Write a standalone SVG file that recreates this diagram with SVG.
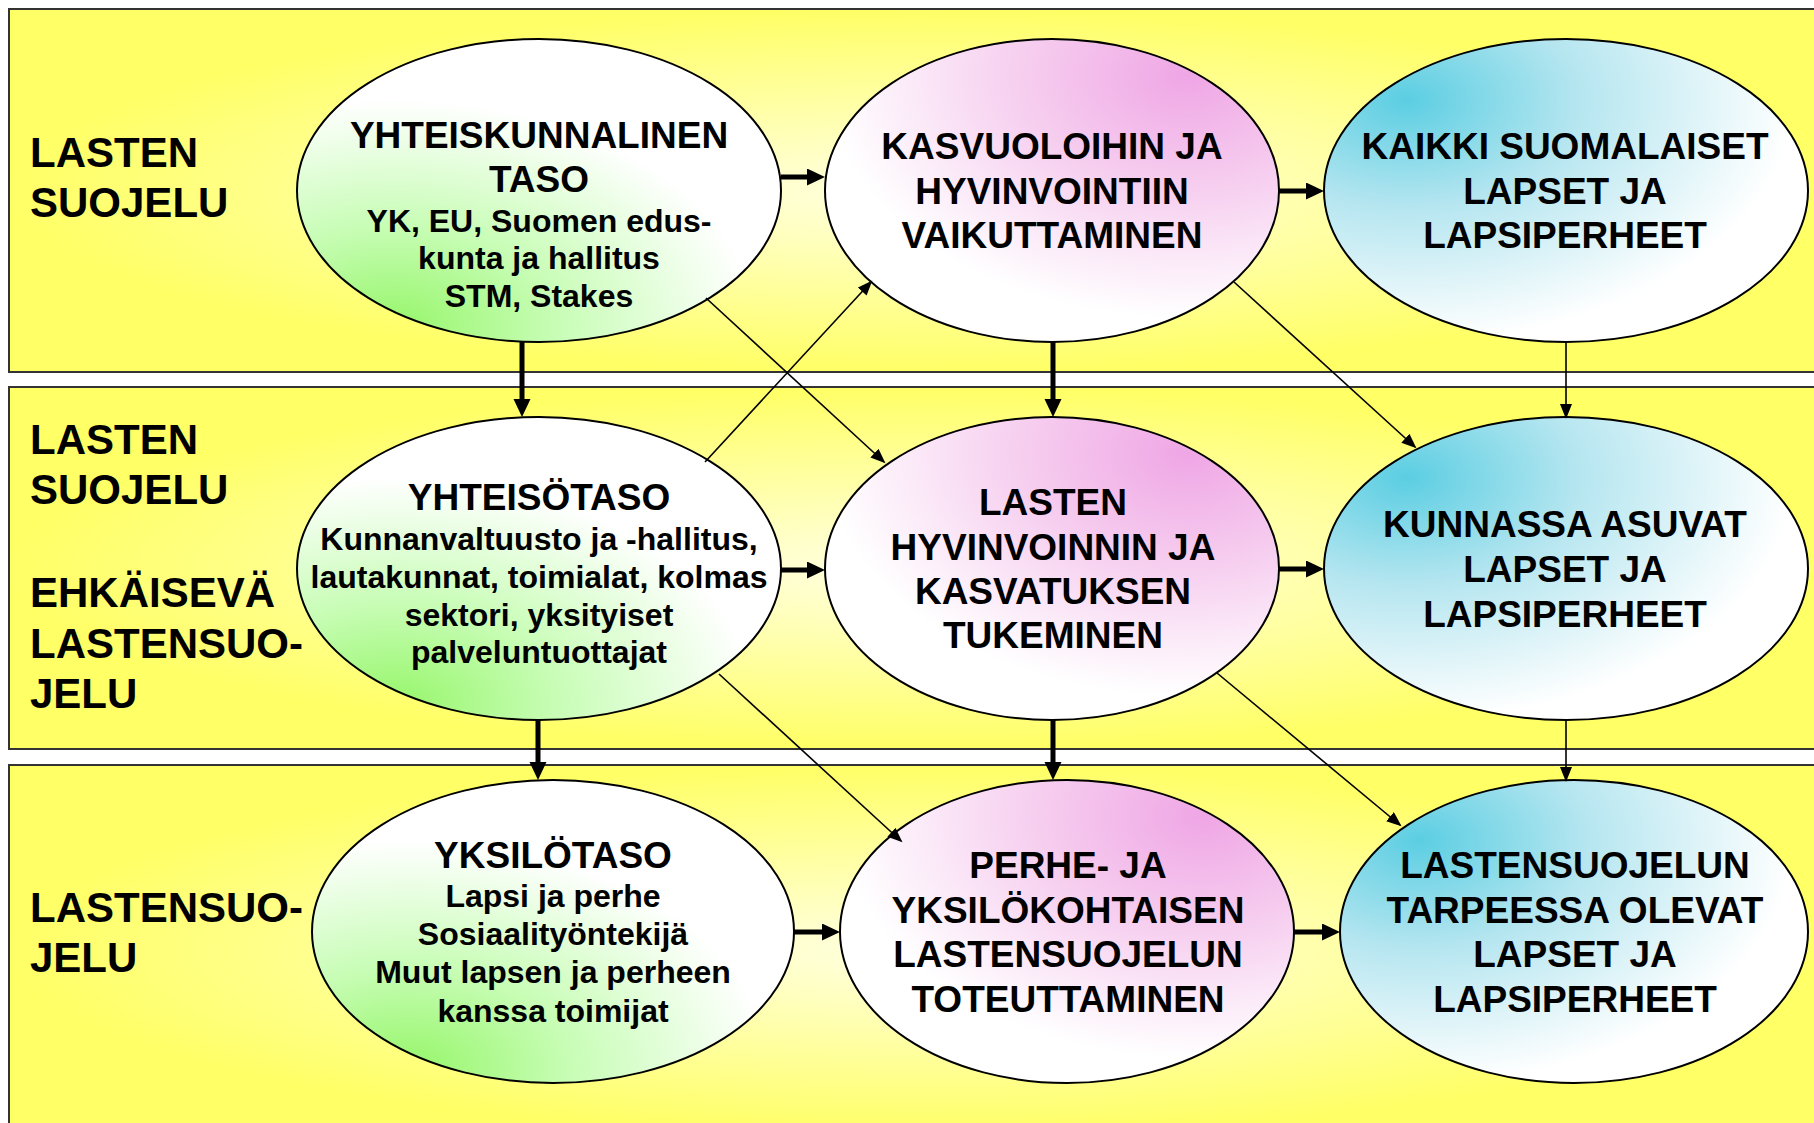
<svg xmlns="http://www.w3.org/2000/svg" width="1814" height="1123" viewBox="0 0 1814 1123">
<defs>
<radialGradient id="gPanel" cx="0.5" cy="0.5" r="0.5">
<stop offset="0" stop-color="#FFFFE2"/>
<stop offset="1" stop-color="#FFFF66"/>
</radialGradient>
<radialGradient id="gGreen" cx="0.2" cy="0.95" r="0.75">
<stop offset="0" stop-color="#96F66A"/>
<stop offset="0.45" stop-color="#C8FDB6"/>
<stop offset="1" stop-color="#FFFFFF"/>
</radialGradient>
<radialGradient id="gPink" cx="0.8" cy="0.12" r="0.8">
<stop offset="0" stop-color="#EFA6E5"/>
<stop offset="0.45" stop-color="#F6CDEF"/>
<stop offset="1" stop-color="#FFFFFF"/>
</radialGradient>
<radialGradient id="gCyan" cx="0.17" cy="0.2" r="0.8">
<stop offset="0" stop-color="#5BCEE2"/>
<stop offset="0.45" stop-color="#B6E6F0"/>
<stop offset="1" stop-color="#FFFFFF"/>
</radialGradient>
<marker id="mThick" markerUnits="userSpaceOnUse" markerWidth="18" markerHeight="18" refX="10" refY="8.5" orient="auto">
<path d="M0,0 L18,8.5 L0,17 z" fill="#000"/>
</marker>
<marker id="mThin" markerUnits="userSpaceOnUse" markerWidth="16" markerHeight="13" refX="13" refY="6" orient="auto">
<path d="M0,0 L15,6 L0,12 z" fill="#000"/>
</marker>
</defs>
<style>
.panel{fill:url(#gPanel);stroke:#333;stroke-width:2}
.node{stroke:#000;stroke-width:2}
.green{fill:url(#gGreen)}
.pink{fill:url(#gPink)}
.cyan{fill:url(#gCyan)}
text{font-family:"Liberation Sans",Arial,Helvetica,sans-serif;font-weight:bold;fill:#000}
.lab{font-size:42px}
.t{font-size:37px;text-anchor:middle}
.s{font-size:32px;text-anchor:middle}
.thick{stroke:#000;stroke-width:5;fill:none;marker-end:url(#mThick)}
.thin{stroke:#000;stroke-width:1.6;fill:none;marker-end:url(#mThin)}
</style>
<rect width="1814" height="1123" fill="#FFFFFF"/>
<g id="panels">
<rect class="panel" x="9" y="9" width="1820" height="363"/>
<rect class="panel" x="9" y="387" width="1820" height="362"/>
<rect class="panel" x="9" y="765" width="1820" height="370"/>
</g>
<g id="labels">
<text class="lab" x="30" y="167">LASTEN</text>
<text class="lab" x="30" y="217">SUOJELU</text>
<text class="lab" x="30" y="454">LASTEN</text>
<text class="lab" x="30" y="504">SUOJELU</text>
<text class="lab" x="30" y="607">EHKÄISEVÄ</text>
<text class="lab" x="30" y="658">LASTENSUO-</text>
<text class="lab" x="30" y="708">JELU</text>
<text class="lab" x="30" y="922">LASTENSUO-</text>
<text class="lab" x="30" y="972">JELU</text>
</g>
<g id="node-yhteiskunnalinen">
<ellipse class="node green" cx="539" cy="190.5" rx="242" ry="151.5"/>
<text class="t" x="539" y="148">YHTEISKUNNALINEN</text>
<text class="t" x="539" y="192">TASO</text>
<text class="s" x="539" y="232">YK, EU, Suomen edus-</text>
<text class="s" x="539" y="269">kunta ja hallitus</text>
<text class="s" x="539" y="307">STM, Stakes</text>
</g>
<g id="node-kasvuoloihin">
<ellipse class="node pink" cx="1052" cy="190.5" rx="227" ry="151.5"/>
<text class="t" x="1052" y="159">KASVUOLOIHIN JA</text>
<text class="t" x="1052" y="204">HYVINVOINTIIN</text>
<text class="t" x="1052" y="248">VAIKUTTAMINEN</text>
</g>
<g id="node-kaikki">
<ellipse class="node cyan" cx="1566" cy="190.5" rx="242" ry="151.5"/>
<text class="t" x="1565" y="159">KAIKKI SUOMALAISET</text>
<text class="t" x="1565" y="204">LAPSET JA</text>
<text class="t" x="1565" y="248">LAPSIPERHEET</text>
</g>
<g id="node-yhteisotaso">
<ellipse class="node green" cx="539" cy="568.5" rx="242" ry="151.5"/>
<text class="t" x="539" y="510">YHTEISÖTASO</text>
<text class="s" x="539" y="550">Kunnanvaltuusto ja -hallitus,</text>
<text class="s" x="539" y="588">lautakunnat, toimialat, kolmas</text>
<text class="s" x="539" y="626">sektori, yksityiset</text>
<text class="s" x="539" y="663">palveluntuottajat</text>
</g>
<g id="node-lasten-hyvinvoinnin">
<ellipse class="node pink" cx="1052" cy="568.5" rx="227" ry="151.5"/>
<text class="t" x="1053" y="515">LASTEN</text>
<text class="t" x="1053" y="560">HYVINVOINNIN JA</text>
<text class="t" x="1053" y="604">KASVATUKSEN</text>
<text class="t" x="1053" y="648">TUKEMINEN</text>
</g>
<g id="node-kunnassa">
<ellipse class="node cyan" cx="1566" cy="568.5" rx="242" ry="151.5"/>
<text class="t" x="1565" y="537">KUNNASSA ASUVAT</text>
<text class="t" x="1565" y="582">LAPSET JA</text>
<text class="t" x="1565" y="627">LAPSIPERHEET</text>
</g>
<g id="node-yksilotaso">
<ellipse class="node green" cx="553" cy="931.5" rx="241" ry="151.5"/>
<text class="t" x="553" y="868">YKSILÖTASO</text>
<text class="s" x="553" y="907">Lapsi ja perhe</text>
<text class="s" x="553" y="945">Sosiaalityöntekijä</text>
<text class="s" x="553" y="983">Muut lapsen ja perheen</text>
<text class="s" x="553" y="1022">kanssa toimijat</text>
</g>
<g id="node-perhe">
<ellipse class="node pink" cx="1067" cy="931.5" rx="227" ry="151.5"/>
<text class="t" x="1068" y="878">PERHE- JA</text>
<text class="t" x="1068" y="923">YKSILÖKOHTAISEN</text>
<text class="t" x="1068" y="967">LASTENSUOJELUN</text>
<text class="t" x="1068" y="1012">TOTEUTTAMINEN</text>
</g>
<g id="node-tarpeessa">
<ellipse class="node cyan" cx="1574" cy="931.5" rx="234" ry="151.5"/>
<text class="t" x="1575" y="878">LASTENSUOJELUN</text>
<text class="t" x="1575" y="923">TARPEESSA OLEVAT</text>
<text class="t" x="1575" y="967">LAPSET JA</text>
<text class="t" x="1575" y="1012">LAPSIPERHEET</text>
</g>
<g id="connectors">
<line class="thick" x1="781" y1="177" x2="817" y2="177"/>
<line class="thick" x1="1279" y1="191" x2="1316" y2="191"/>
<line class="thick" x1="781" y1="570" x2="817" y2="570"/>
<line class="thick" x1="1279" y1="569" x2="1316" y2="569"/>
<line class="thick" x1="794" y1="932" x2="832" y2="932"/>
<line class="thick" x1="1294" y1="932" x2="1332" y2="932"/>
<line class="thick" x1="522" y1="342" x2="522" y2="409"/>
<line class="thick" x1="538" y1="720" x2="538" y2="772"/>
<line class="thick" x1="1053" y1="342" x2="1053" y2="409"/>
<line class="thick" x1="1053" y1="720" x2="1053" y2="772"/>
<line class="thin" x1="1566" y1="342" x2="1566" y2="417"/>
<line class="thin" x1="1566" y1="720" x2="1566" y2="780"/>
<line class="thin" x1="706" y1="298" x2="884" y2="462"/>
<line class="thin" x1="705" y1="462" x2="871" y2="282"/>
<line class="thin" x1="1234" y1="282" x2="1415" y2="447"/>
<line class="thin" x1="719" y1="674" x2="901" y2="841"/>
<line class="thin" x1="1217" y1="673" x2="1400" y2="825"/>
</g>
</svg>
